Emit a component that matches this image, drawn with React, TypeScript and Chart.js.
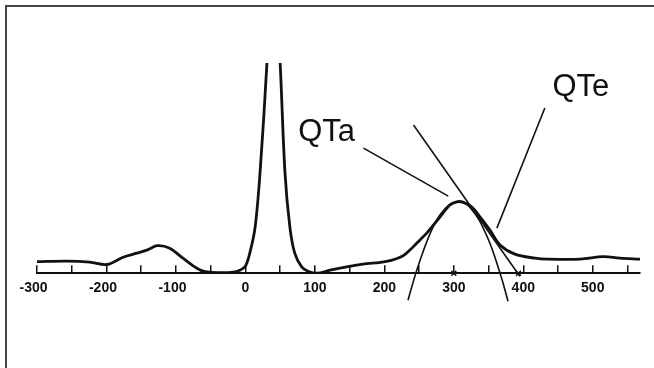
import React, { useEffect, useRef } from "react";
import { Chart, registerables } from "chart.js";

Chart.register(...registerables);

// ECG complex (time in ms, amplitude in arbitrary units above baseline)
const ecgX = [-300, -257, -224, -199, -176, -156, -142, -127, -109, -90, -70, -58, -37, -18, -8, 0, 7, 14, 21, 31, 40, 50, 57, 64, 71, 81, 90, 103, 122, 146, 169, 203, 227, 241, 251, 261, 280, 294, 304, 313, 326, 338, 352, 367, 388, 417, 434, 482, 515, 539, 568];
const ecgY = [11.5, 12, 11, 8.7, 16, 20, 23, 27.5, 25, 15, 5, 1.5, 0.5, 1, 3, 7, 22, 46, 100, 210, 335, 210, 100, 46, 20, 6.3, 2, 0, 3, 6.3, 9, 11.8, 17.5, 26, 33, 40, 56, 68, 71.3, 71, 66, 56, 43, 28, 19, 15, 14, 14, 16.5, 15, 14];

// parabola fitted to the T-wave apex
const parabolaX = [234, 249, 270, 287, 305, 323, 347, 367, 378];
const parabolaY = [-27, 8, 46, 64, 71, 66, 38, -1, -28];

// tangent on the descending limb of T
const tangentX = [242, 395];
const tangentY = [148, -3];

// label pointers
const qtaPointerX = [170, 292];
const qtaPointerY = [125, 77];
const qtePointerX = [431, 362];
const qtePointerY = [165, 45];

// crossing marks on the axis
const markX = [300, 393];
const markY = [0, 0];

// annotation texts
const labelTexts = ["QTa", "QTe"];
const labelX = [76, 442];
const labelY = [132, 177];

const xMin = -300;
const xMax = 568;
const tickStep = 50;
const labelStep = 100;

const pts = (xs: number[], ys: number[]) => xs.map((x, i) => ({ x, y: ys[i] }));

export default function App() {
  const ref = useRef<HTMLCanvasElement | null>(null);

  useEffect(() => {
    if (!ref.current) return;
    const textPlugin = {
      id: "qtLabels",
      afterDatasetsDraw(chart: any) {
        const { ctx, scales } = chart;
        ctx.save();
        ctx.fillStyle = "#111";
        ctx.font = "31px 'Liberation Sans', Arial, sans-serif";
        ctx.textAlign = "left";
        ctx.textBaseline = "alphabetic";
        labelTexts.forEach((t, i) => {
          ctx.fillText(t, scales.x.getPixelForValue(labelX[i]), scales.y.getPixelForValue(labelY[i]));
        });
        ctx.restore();
      },
    };

    const thin = { borderColor: "#111", borderWidth: 1.6, pointRadius: 0, tension: 0, clip: false as any, fill: false };

    const chart = new Chart(ref.current, {
      type: "line",
      data: {
        datasets: [
          {
            data: pts(ecgX, ecgY),
            borderColor: "#111",
            borderWidth: 2.8,
            pointRadius: 0,
            tension: 0.35,
            fill: false,
          },
          { data: pts(parabolaX, parabolaY), ...thin, tension: 0.4 },
          { data: pts(tangentX, tangentY), ...thin },
          { data: pts(qtaPointerX, qtaPointerY), ...thin },
          { data: pts(qtePointerX, qtePointerY), ...thin },
          {
            data: pts(markX, markY),
            showLine: false,
            pointStyle: "crossRot",
            pointRadius: 3.5,
            pointBorderWidth: 1.5,
            pointBorderColor: "#111",
            borderColor: "#111",
            clip: false as any,
          },
        ] as any,
      },
      options: {
        animation: false,
        responsive: false,
        events: [],
        layout: { padding: { left: 37, right: 14, top: 63, bottom: 56 } },
        plugins: { legend: { display: false }, tooltip: { enabled: false } },
        scales: {
          x: {
            type: "linear",
            min: xMin,
            max: xMax,
            position: "bottom",
            border: { display: true, color: "#111", width: 2 },
            grid: { display: true, drawOnChartArea: false, drawTicks: true, tickLength: -8, color: "#111", lineWidth: 1.5 },
            ticks: {
              stepSize: tickStep,
              includeBounds: false,
              autoSkip: false,
              maxRotation: 0,
              minRotation: 0,
              padding: 15,
              color: "#111",
              font: { family: "'Liberation Sans', Arial, sans-serif", size: 14, weight: "bold" },
              callback: (v: any) => {
                const n = Number(v);
                if (n % labelStep !== 0) return "";
                return n < 0 ? `${n}\u2002` : `${n}`;
              },
            },
          },
          y: { type: "linear", min: 0, max: 210, display: false },
        },
      },
      plugins: [textPlugin],
    });
    return () => chart.destroy();
  }, []);

  return (
    <div style={{ position: "fixed", left: 0, top: 0, width: 654, height: 368, background: "#fff", overflow: "hidden" }}>
      <canvas ref={ref} width={654} height={368} style={{ position: "absolute", left: 0, top: 0, width: 654, height: 368 }} />
      <div
        style={{
          position: "absolute",
          left: 5,
          top: 5,
          right: 0,
          bottom: 0,
          borderTop: "2px solid #444",
          borderLeft: "2px solid #444",
          pointerEvents: "none",
        }}
      />
    </div>
  );
}
